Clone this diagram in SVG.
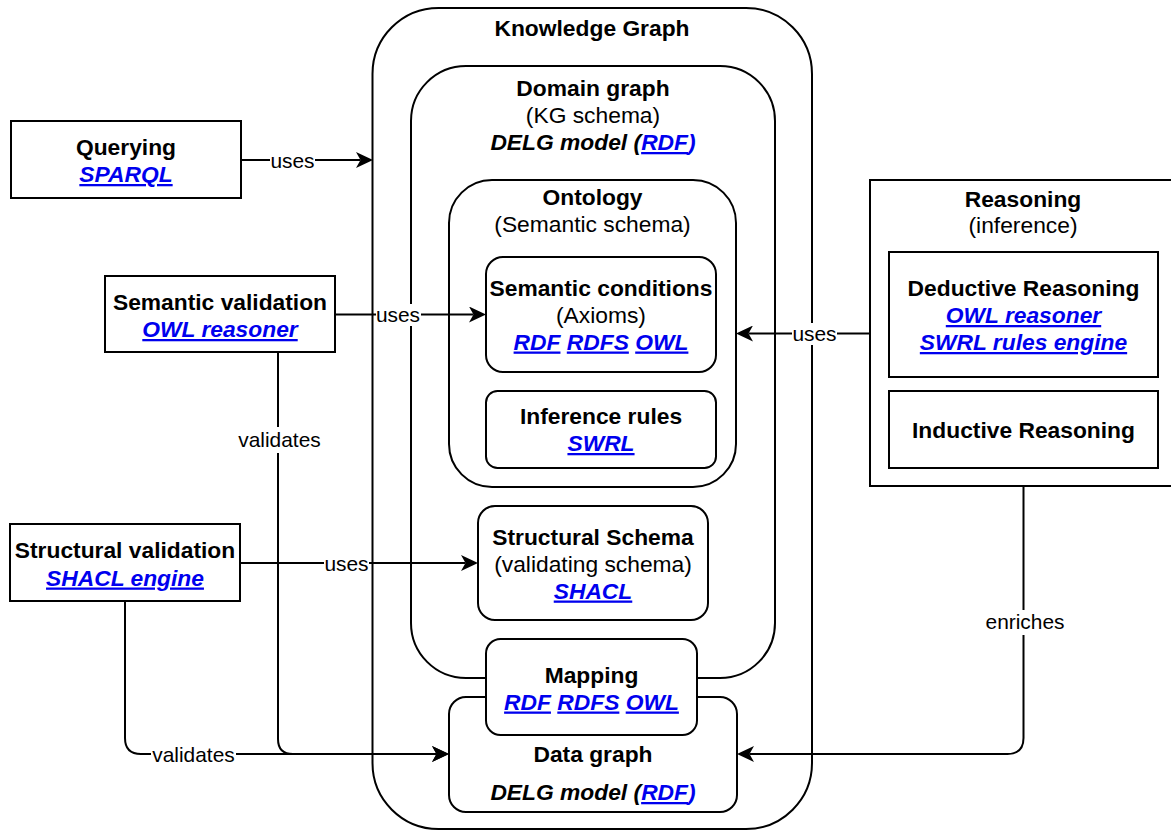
<svg xmlns="http://www.w3.org/2000/svg" width="1171" height="830" viewBox="0 0 1171 830">
  <defs>
    <style>
      .box { fill: #ffffff; stroke: #000000; stroke-width: 2; }
      .t { font-family: "Liberation Sans", Arial, Helvetica, sans-serif; font-size: 22.8px; text-anchor: middle; fill: #000000; }
      .b { font-weight: bold; }
      .bi { font-weight: bold; font-style: italic; }
      .lnk { fill: #0000ee; font-weight: bold; font-style: italic; text-decoration: underline; }
      .blue { fill: #0000ee; }
      .lbl { font-family: "Liberation Sans", Arial, Helvetica, sans-serif; font-size: 20.9px; text-anchor: middle; fill: #000000; }
      .edge { fill: none; stroke: #000000; stroke-width: 2; }
      .lblbg { fill: #ffffff; }
    </style>
    <marker id="arrow" markerUnits="userSpaceOnUse" viewBox="0 0 17 16" markerWidth="17" markerHeight="16" refX="4.5" refY="8" orient="auto">
      <path d="M17,8 L0,0 L4.5,8 L0,16 Z" fill="#000000"/>
    </marker>
  </defs>

  <!-- Knowledge graph container -->
  <g id="knowledge-graph">
    <rect class="box" x="372.5" y="8" width="439.5" height="821" rx="66" ry="66"/>
    <text class="t b" x="592" y="36">Knowledge Graph</text>
  </g>

  <!-- Domain graph -->
  <g id="domain-graph">
    <rect class="box" x="411" y="66" width="364" height="612" rx="55" ry="55"/>
    <text class="t b" x="593" y="96">Domain graph</text>
    <text class="t" x="593" y="123">(KG schema)</text>
    <text class="t bi" x="593" y="150">DELG model (<tspan class="lnk">RDF</tspan><tspan class="blue">)</tspan></text>
  </g>

  <!-- Ontology -->
  <g id="ontology">
    <rect class="box" x="449" y="180" width="287" height="307" rx="43" ry="43"/>
    <text class="t b" x="592.5" y="205">Ontology</text>
    <text class="t" x="592.5" y="232">(Semantic schema)</text>
  </g>

  <g id="semantic-conditions">
    <rect class="box" x="486" y="257" width="230" height="115" rx="17" ry="17"/>
    <text class="t b" x="601" y="295.5">Semantic conditions</text>
    <text class="t" x="601" y="322.5">(Axioms)</text>
    <text class="t" x="601" y="349.5"><tspan class="lnk">RDF</tspan> <tspan class="lnk">RDFS</tspan> <tspan class="lnk">OWL</tspan></text>
  </g>

  <g id="inference-rules">
    <rect class="box" x="486" y="391" width="230" height="77" rx="11.5" ry="11.5"/>
    <text class="t b" x="601" y="424">Inference rules</text>
    <text class="t" x="601" y="451"><tspan class="lnk">SWRL</tspan></text>
  </g>

  <g id="structural-schema">
    <rect class="box" x="478" y="506" width="230" height="114" rx="17" ry="17"/>
    <text class="t b" x="593" y="544.5">Structural Schema</text>
    <text class="t" x="593" y="571.5">(validating schema)</text>
    <text class="t" x="593" y="598.5"><tspan class="lnk">SHACL</tspan></text>
  </g>

  <g id="data-graph">
    <rect class="box" x="449" y="697" width="288" height="115" rx="17" ry="17"/>
    <text class="t b" x="593" y="762">Data graph</text>
    <text class="t bi" x="593" y="800">DELG model (<tspan class="lnk">RDF</tspan><tspan class="blue">)</tspan></text>
  </g>

  <g id="mapping">
    <rect class="box" x="486" y="639" width="211" height="96" rx="14.5" ry="14.5"/>
    <text class="t b" x="591.5" y="683">Mapping</text>
    <text class="t" x="591.5" y="709.5"><tspan class="lnk">RDF</tspan> <tspan class="lnk">RDFS</tspan> <tspan class="lnk">OWL</tspan></text>
  </g>

  <!-- Consumers on the left -->
  <g id="querying">
    <rect class="box" x="11" y="121" width="230" height="77"/>
    <text class="t b" x="126" y="155">Querying</text>
    <text class="t" x="126" y="182"><tspan class="lnk">SPARQL</tspan></text>
  </g>

  <g id="semantic-validation">
    <rect class="box" x="105" y="276" width="230" height="76"/>
    <text class="t b" x="220" y="309.5">Semantic validation</text>
    <text class="t" x="220" y="337"><tspan class="lnk">OWL reasoner</tspan></text>
  </g>

  <g id="structural-validation">
    <rect class="box" x="10" y="524" width="230" height="77"/>
    <text class="t b" x="125" y="558">Structural validation</text>
    <text class="t" x="125" y="585.5"><tspan class="lnk">SHACL engine</tspan></text>
  </g>

  <!-- Reasoning on the right -->
  <g id="reasoning">
    <rect class="box" x="870" y="180" width="306" height="306"/>
    <text class="t b" x="1023" y="206.5">Reasoning</text>
    <text class="t" x="1023" y="232.5">(inference)</text>
  </g>

  <g id="deductive-reasoning">
    <rect class="box" x="889" y="252" width="269" height="125"/>
    <text class="t b" x="1023.5" y="296">Deductive Reasoning</text>
    <text class="t" x="1023.5" y="323"><tspan class="lnk">OWL reasoner</tspan></text>
    <text class="t" x="1023.5" y="350"><tspan class="lnk">SWRL rules engine</tspan></text>
  </g>

  <g id="inductive-reasoning">
    <rect class="box" x="889" y="391" width="269" height="77"/>
    <text class="t b" x="1023.5" y="438">Inductive Reasoning</text>
  </g>

  <!-- Connectors -->
  <g id="connectors">
    <path class="edge" d="M241,160 H360.5" marker-end="url(#arrow)"/>
    <path class="edge" d="M335,314.5 H473.5" marker-end="url(#arrow)"/>
    <path class="edge" d="M870,333.5 H748.5" marker-end="url(#arrow)"/>
    <path class="edge" d="M240,563 H465.5" marker-end="url(#arrow)"/>
    <path class="edge" d="M278,352 V739 Q278,754 293,754 H436.5" marker-end="url(#arrow)"/>
    <path class="edge" d="M125,601 V738 Q125,754 141,754 H436.5" marker-end="url(#arrow)"/>
    <path class="edge" d="M1023.5,486 V738 Q1023.5,754 1007.5,754 H749.5" marker-end="url(#arrow)"/>

    <!-- edge labels -->
    <rect class="lblbg" x="270" y="150" width="45" height="22"/>
    <text class="lbl" x="292.5" y="167.5">uses</text>

    <rect class="lblbg" x="376" y="304" width="45" height="22"/>
    <text class="lbl" x="398" y="322">uses</text>

    <rect class="lblbg" x="792" y="323" width="45" height="22"/>
    <text class="lbl" x="814.5" y="341">uses</text>

    <rect class="lblbg" x="324" y="552" width="45" height="22"/>
    <text class="lbl" x="346.5" y="570.5">uses</text>

    <rect class="lblbg" x="237" y="427" width="85" height="26"/>
    <text class="lbl" x="279.5" y="447">validates</text>

    <rect class="lblbg" x="151" y="743" width="85" height="22"/>
    <text class="lbl" x="193.5" y="761.5">validates</text>

    <rect class="lblbg" x="984" y="610" width="82" height="25"/>
    <text class="lbl" x="1025" y="628.5">enriches</text>
  </g>
</svg>
